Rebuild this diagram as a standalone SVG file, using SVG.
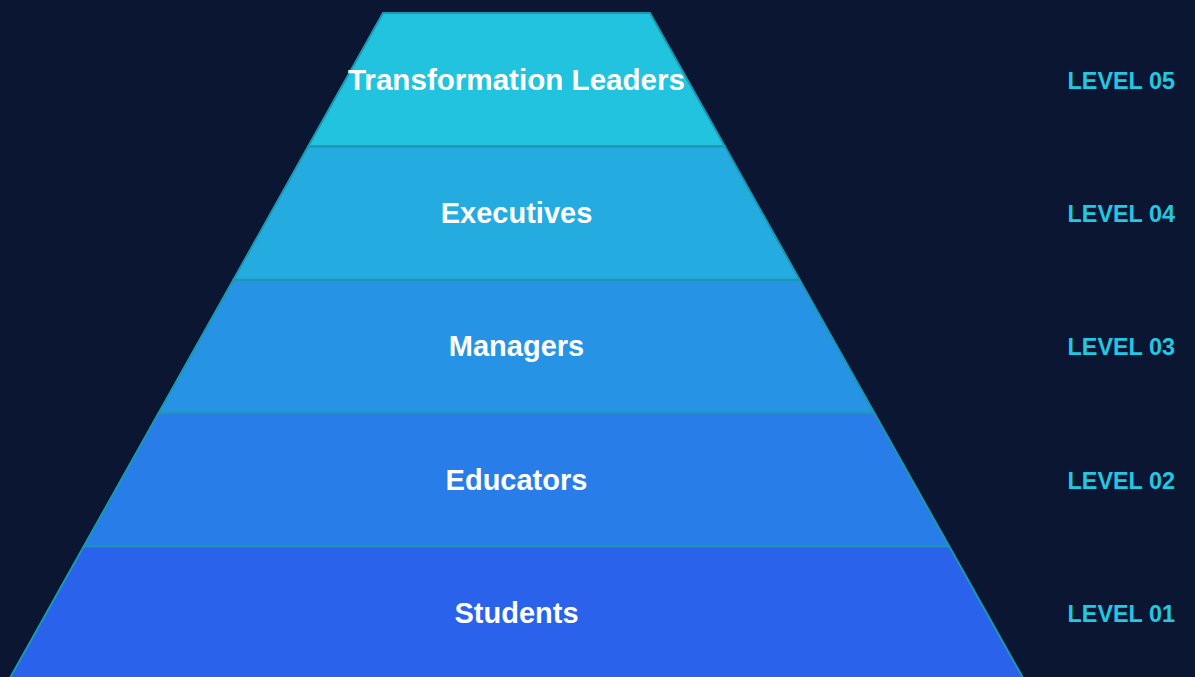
<svg xmlns="http://www.w3.org/2000/svg" width="1195" height="677" viewBox="0 0 1195 677">
<style>
.tier{stroke:#1a98b0;stroke-width:2;stroke-linejoin:round}
.lbl{font-family:"Liberation Sans",Arial,sans-serif;font-weight:bold;font-size:29px;fill:#ffffff;text-anchor:middle}
.lvl{font-family:"Liberation Sans",Arial,sans-serif;font-weight:bold;font-size:23.4px;fill:#22c8e3;text-anchor:end}
</style>
<rect width="1195" height="677" fill="#0a1632"/>
<g id="level1">
<polygon class="tier" fill="#2a62ec" points="83.8,546.33 949.2,546.33 1024,679.67 9,679.67"/>
<text class="lbl" x="516.5" y="623">Students</text>
<text class="lvl" x="1175" y="621.8">LEVEL 01</text>
</g>
<g id="level2">
<polygon class="tier" fill="#287de8" points="158.6,413 874.4,413 949.2,546.33 83.8,546.33"/>
<text class="lbl" x="516.5" y="489.6">Educators</text>
<text class="lvl" x="1175" y="488.5">LEVEL 02</text>
</g>
<g id="level3">
<polygon class="tier" fill="#2693e4" points="233.4,279.67 799.6,279.67 874.4,413 158.6,413"/>
<text class="lbl" x="516.5" y="356.3">Managers</text>
<text class="lvl" x="1175" y="355.2">LEVEL 03</text>
</g>
<g id="level4">
<polygon class="tier" fill="#24abe0" points="308.2,146.33 724.8,146.33 799.6,279.67 233.4,279.67"/>
<text class="lbl" x="516.5" y="222.9">Executives</text>
<text class="lvl" x="1175" y="221.8">LEVEL 04</text>
</g>
<g id="level5">
<polygon class="tier" fill="#22c3de" points="383,13 650,13 724.8,146.33 308.2,146.33"/>
<text class="lbl" x="516.5" y="89.6" style="font-size:29.6px">Transformation Leaders</text>
<text class="lvl" x="1175" y="88.5">LEVEL 05</text>
</g>
</svg>
